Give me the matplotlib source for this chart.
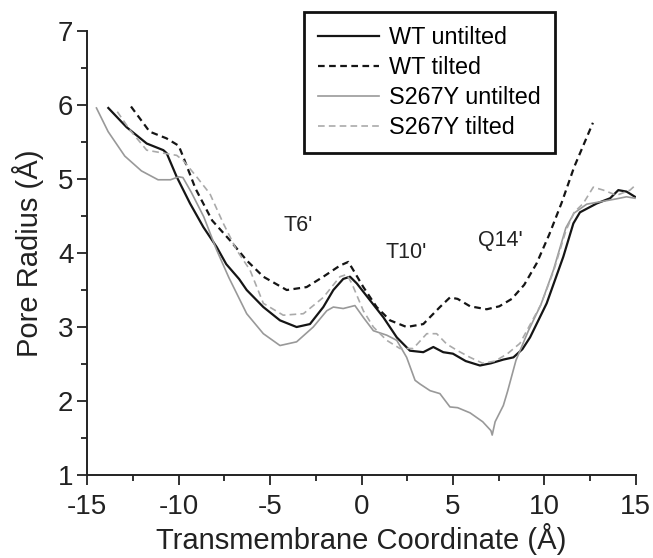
import matplotlib.pyplot as plt
from matplotlib.ticker import MultipleLocator

plt.rcParams['font.family'] = ['Liberation Sans', 'DejaVu Sans']
plt.rcParams['axes.unicode_minus'] = False

# WT untilted
wt_u_x = [-13.85, -12.85, -11.75, -10.84, -10.66, -10.11, -9.38, -8.65, -7.92, -7.4, -6.7,
          -6.28, -5.37, -4.46, -3.55, -2.82, -2.09, -1.54, -1.0, -0.63, -0.26, 0.47, 1.2,
          1.93, 2.65, 3.38, 3.93, 4.47, 5.0, 5.7, 6.48, 7.08, 7.76, 8.31, 8.8, 9.22, 10.13,
          11.04, 11.59, 11.95, 12.87, 13.6, 14.05, 14.5, 14.96]
wt_u_y = [5.96, 5.70, 5.48, 5.39, 5.35, 5.03, 4.67, 4.35, 4.08, 3.85, 3.65,
          3.50, 3.27, 3.09, 3.00, 3.04, 3.27, 3.50, 3.65, 3.68, 3.59, 3.36, 3.13,
          2.86, 2.68, 2.66, 2.73, 2.66, 2.64, 2.54, 2.48, 2.51, 2.56, 2.59, 2.70, 2.86, 3.32,
          3.95, 4.40, 4.55, 4.67, 4.74, 4.85, 4.83, 4.76]

# WT tilted
wt_t_x = [-12.61, -11.59, -10.67, -10.0, -9.77, -9.08, -8.17, -7.19, -6.28, -5.37, -4.09,
          -3.0, -2.09, -1.18, -0.72, -0.45, 0.1, 0.83, 1.56, 2.47, 3.38, 4.29, 4.84, 5.26,
          5.94, 6.85, 7.54, 8.22, 8.9, 9.58, 10.27, 10.95, 11.63, 12.66]
wt_t_y = [5.98, 5.64, 5.55, 5.45, 5.31, 4.87, 4.44, 4.17, 3.90, 3.68, 3.50,
          3.54, 3.68, 3.83, 3.88, 3.77, 3.54, 3.27, 3.09, 3.00, 3.04, 3.27, 3.40, 3.38,
          3.28, 3.24, 3.28, 3.38, 3.57, 3.86, 4.25, 4.68, 5.16, 5.76]

# S267Y untilted
s_u_x = [-14.5, -13.86, -12.95, -12.04, -11.13, -10.45, -10.0, -9.77, -9.31, -8.63, -7.94,
         -7.26, -6.28, -5.37, -4.46, -3.55, -2.64, -1.9, -1.54, -1.0, -0.36, 0.1, 0.65,
         1.38, 1.93, 2.47, 2.93, 3.2, 3.75, 4.29, 4.84, 5.26, 5.94, 6.63, 7.08, 7.15, 7.31,
         7.76, 7.99, 8.45, 9.13, 9.81, 10.5, 11.18, 11.63, 12.32, 13.23, 13.9, 14.5, 14.96]
s_u_y = [5.96, 5.64, 5.31, 5.11, 4.99, 4.99, 5.03, 5.02, 4.82, 4.49, 4.05,
         3.67, 3.18, 2.91, 2.75, 2.80, 3.00, 3.22, 3.27, 3.25, 3.29, 3.13, 2.95,
         2.89, 2.82, 2.59, 2.28, 2.23, 2.14, 2.10, 1.92, 1.91, 1.84, 1.72, 1.60, 1.54, 1.72,
         1.94, 2.13, 2.55, 2.95, 3.30, 3.77, 4.34, 4.54, 4.66, 4.70, 4.73, 4.76, 4.74]

# S267Y tilted
s_t_x = [-13.36, -12.66, -11.75, -10.84, -10.11, -9.75, -9.02, -8.29, -7.56, -6.83, -6.1,
         -5.37, -4.28, -3.18, -2.09, -1.18, -0.81, -0.53, 0.1, 0.65, 1.38, 2.1, 2.83, 3.57,
         4.11, 4.66, 5.26, 5.94, 6.63, 7.31, 7.99, 8.67, 9.24, 9.81, 10.5, 11.18, 11.63,
         12.13, 12.68, 13.23, 13.96, 14.69, 15.0]
s_t_y = [5.91, 5.66, 5.39, 5.35, 5.32, 5.25, 5.03, 4.80, 4.40, 4.04, 3.77,
         3.32, 3.16, 3.18, 3.40, 3.68, 3.71, 3.59, 3.22, 3.00, 2.82, 2.71, 2.71, 2.91,
         2.91, 2.77, 2.68, 2.59, 2.51, 2.54, 2.64, 2.78, 3.04, 3.30, 3.75, 4.30, 4.55,
         4.67, 4.89, 4.85, 4.78, 4.85, 4.92]

labels = ["WT untilted", "WT tilted", "S267Y untilted", "S267Y tilted"]
sites = ["T6'", "T10'", "Q14'"]
site_x = [-3.47, 2.47, 7.58]
site_y = [4.37, 4.01, 4.17]

fig = plt.figure(figsize=(6.53, 5.58), dpi=100)
ax = fig.add_axes([0.1337, 0.1487, 0.8398, 0.7957])

ax.plot(wt_u_x, wt_u_y, color="#151515", lw=1.6, label=labels[0])
ax.plot(wt_t_x, wt_t_y, color="#151515", lw=1.6, ls=(0, (3, 2)), label=labels[1])
ax.plot(s_u_x, s_u_y, color="#999999", lw=1.2, label=labels[2])
ax.plot(s_t_x, s_t_y, color="#aaaaaa", lw=1.2, ls=(0, (4, 2.5)), label=labels[3])

for s, x, y in zip(sites, site_x, site_y):
    ax.text(x, y, s, fontsize=15.5, ha="center", va="center", color="#222222")

ax.set_xlim(-15, 15)
ax.set_ylim(1, 7)
ax.xaxis.set_major_locator(MultipleLocator(5))
ax.xaxis.set_minor_locator(MultipleLocator(2.5))
ax.yaxis.set_major_locator(MultipleLocator(1))
ax.yaxis.set_minor_locator(MultipleLocator(0.5))
ax.spines["top"].set_visible(False)
ax.spines["right"].set_visible(False)
for sp in ("left", "bottom"):
    ax.spines[sp].set_linewidth(1.4)
    ax.spines[sp].set_color("#222222")
ax.tick_params(which="major", length=7, width=1.3, labelsize=20, colors="#222222")
ax.tick_params(which="minor", length=4, width=1.3, colors="#222222")
ax.tick_params(axis="x", pad=7)
ax.tick_params(axis="y", pad=3)
ax.set_xlabel("Transmembrane Coordinate (Å)", fontsize=21, color="#222222", labelpad=2)
ax.set_ylabel("Pore Radius (Å)", fontsize=21, color="#222222", labelpad=10)

leg = ax.legend(loc="upper left", bbox_to_anchor=(304 / 653, 1 - 12 / 558),
                bbox_transform=fig.transFigure, fontsize=16.8, handlelength=2.6,
                handletextpad=0.45, labelspacing=0.3, borderpad=0.6, borderaxespad=0,
                fancybox=False, framealpha=1)
leg.get_frame().set_edgecolor("#111111")
leg.get_frame().set_linewidth(2)

fig.savefig("out.png", dpi=100)
